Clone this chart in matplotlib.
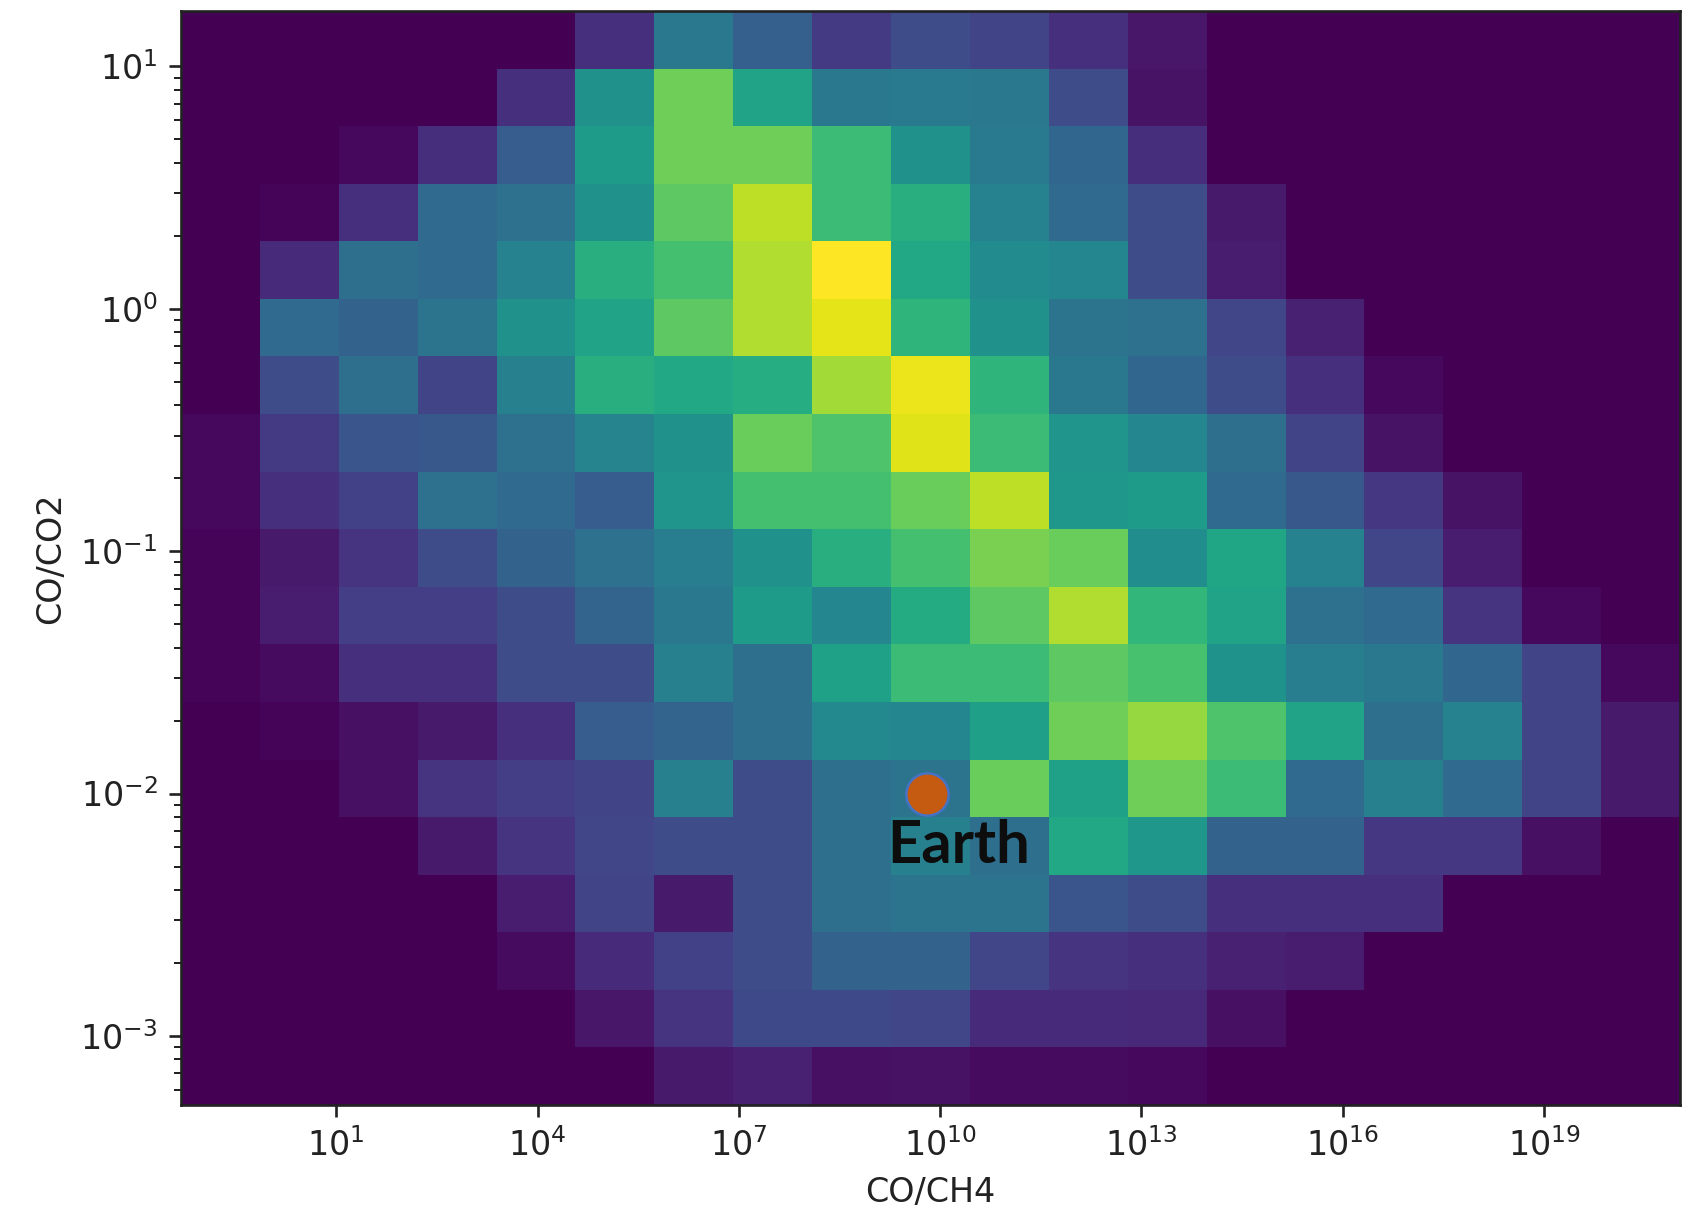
import numpy as np
import matplotlib
matplotlib.use('Agg')
import matplotlib.pyplot as plt

# ---------------- data ----------------
# 2-D histogram counts (colour level 0..10), rows listed from the TOP of the
# plot (highest CO/CO2) to the bottom, columns from low to high CO/CH4.
counts_top_to_bottom = [
    [0, 0, 0, 0, 0, 1.4, 4.0, 3.0, 1.7, 2.3, 2.0, 1.4, 0.6, 0, 0, 0, 0, 0, 0],
    [0, 0, 0, 0, 1.4, 5.0, 7.8, 5.8, 4.0, 4.1, 4.0, 2.3, 0.5, 0, 0, 0, 0, 0, 0],
    [0, 0, 0.2, 1.3, 2.9, 5.5, 7.8, 7.8, 6.8, 5.0, 4.1, 3.3, 1.3, 0, 0, 0, 0, 0, 0],
    [0, 0.1, 1.4, 3.4, 3.7, 5.0, 7.5, 9.0, 6.8, 6.3, 4.4, 3.4, 2.3, 0.7, 0, 0, 0, 0, 0],
    [0, 1.2, 3.6, 3.4, 4.4, 6.3, 7.0, 8.8, 10.0, 6.0, 4.8, 4.6, 2.3, 0.8, 0, 0, 0, 0, 0],
    [0, 3.4, 3.1, 3.8, 5.0, 5.8, 7.5, 8.8, 9.6, 6.5, 5.0, 3.8, 3.7, 2.1, 0.9, 0, 0, 0, 0],
    [0, 2.3, 3.6, 2.0, 4.3, 6.3, 6.0, 6.2, 8.6, 9.7, 6.5, 4.0, 3.3, 2.3, 1.4, 0.2, 0, 0, 0],
    [0.2, 1.7, 2.6, 2.7, 3.7, 4.5, 5.0, 7.7, 7.2, 9.5, 6.8, 5.2, 4.6, 3.6, 2.0, 0.5, 0, 0, 0],
    [0.2, 1.4, 1.9, 3.7, 3.4, 2.9, 5.2, 7.0, 7.0, 7.7, 9.0, 5.3, 5.5, 3.4, 2.7, 1.6, 0.5, 0, 0],
    [0.1, 0.7, 1.5, 2.3, 3.1, 3.7, 4.2, 5.0, 6.3, 7.0, 8.0, 7.7, 4.9, 5.9, 4.4, 2.1, 0.8, 0, 0],
    [0.1, 0.8, 1.8, 1.8, 2.3, 3.2, 4.0, 5.5, 4.6, 6.1, 7.5, 8.8, 6.6, 5.8, 3.7, 3.4, 1.5, 0.2, 0],
    [0.1, 0.3, 1.4, 1.4, 2.3, 2.3, 4.3, 3.6, 5.7, 6.8, 6.8, 7.5, 7.1, 5.1, 4.2, 4.0, 3.3, 2.0, 0.2],
    [0, 0.1, 0.4, 0.7, 1.4, 2.9, 3.2, 3.6, 4.7, 4.6, 5.6, 7.8, 8.4, 7.2, 5.8, 3.6, 4.4, 2.0, 0.7],
    [0, 0, 0.4, 1.5, 1.8, 2.0, 4.3, 2.3, 3.6, 3.8, 7.7, 5.7, 7.8, 6.8, 3.4, 4.3, 3.4, 2.0, 0.7],
    [0, 0, 0, 0.7, 1.5, 2.1, 2.3, 2.3, 3.6, 4.3, 3.6, 6.0, 5.3, 3.1, 3.1, 1.6, 1.6, 0.4, 0],
    [0, 0, 0, 0, 0.8, 2.0, 0.7, 2.3, 3.6, 3.8, 3.8, 2.6, 2.3, 1.4, 1.4, 1.4, 0, 0, 0],
    [0, 0, 0, 0, 0.3, 1.2, 1.9, 2.3, 3.1, 3.1, 2.1, 1.5, 1.4, 0.9, 0.8, 0, 0, 0, 0],
    [0, 0, 0, 0, 0, 0.6, 1.5, 2.2, 2.2, 2.1, 1.2, 1.2, 1.1, 0.4, 0, 0, 0, 0, 0],
    [0, 0, 0, 0, 0, 0, 0.7, 0.9, 0.4, 0.45, 0.3, 0.3, 0.2, 0, 0, 0, 0, 0, 0],
]

# histogram bin range (log10) and bin count
co_ch4_log_range = (-1.314, 21.025)
co_co2_log_range = (-3.285, 1.229)
n_bins = 19

# Earth reference point
earth_co_ch4 = 10 ** 9.8
earth_co_co2 = 1e-2
earth_label = "Earth"

x_ticks = [1e1, 1e4, 1e7, 1e10, 1e13, 1e16, 1e19]
x_label = "CO/CH4"
y_label = "CO/CO2"

# ---------------- plot ----------------
xedges = np.logspace(co_ch4_log_range[0], co_ch4_log_range[1], n_bins + 1)
yedges = np.logspace(co_co2_log_range[0], co_co2_log_range[1], n_bins + 1)
C = np.array(counts_top_to_bottom, dtype=float)[::-1]

s = 2.4  # scale relative to matplotlib defaults
fig = plt.figure(figsize=(16.91, 12.32), dpi=100)
ax = fig.add_axes([0.107, 0.1031, 0.8865, 0.888])
ax.pcolormesh(xedges, yedges, C, cmap='viridis', vmin=0, vmax=10,
              shading='flat', edgecolors='face', linewidth=0, antialiased=False)
ax.set_xscale('log')
ax.set_yscale('log')
ax.set_xlim(xedges[0], xedges[-1])
ax.set_ylim(yedges[0], yedges[-1])
ax.set_xticks(x_ticks)
ax.xaxis.set_minor_locator(matplotlib.ticker.NullLocator())

ax.tick_params(which='major', length=3.5 * s, width=0.8 * s, pad=3.5 * s,
               labelsize=24, color='#222222', labelcolor='#222222')
ax.tick_params(which='minor', length=2 * s, width=0.6 * s, color='#222222')
for sp in ax.spines.values():
    sp.set_linewidth(0.8 * s)
    sp.set_color('#222222')

ax.set_xlabel(x_label, fontsize=24, labelpad=4 * s, color='#222222')
ax.set_ylabel(y_label, fontsize=24, labelpad=4 * s, color='#222222')

ax.plot([earth_co_ch4], [earth_co_co2], 'o', markersize=30.5,
        markerfacecolor='#c55a11', markeredgecolor='#4472c4',
        markeredgewidth=1.8, zorder=5)
ax.annotate(earth_label, xy=(earth_co_ch4, earth_co_co2),
            xytext=(23, -50), textcoords='offset points',
            ha='center', va='baseline', fontsize=43,
            fontweight='bold', family=['Lato', 'DejaVu Sans'],
            color='#0d0d0d', zorder=6)

fig.savefig('out.png', dpi=100, facecolor='white')
